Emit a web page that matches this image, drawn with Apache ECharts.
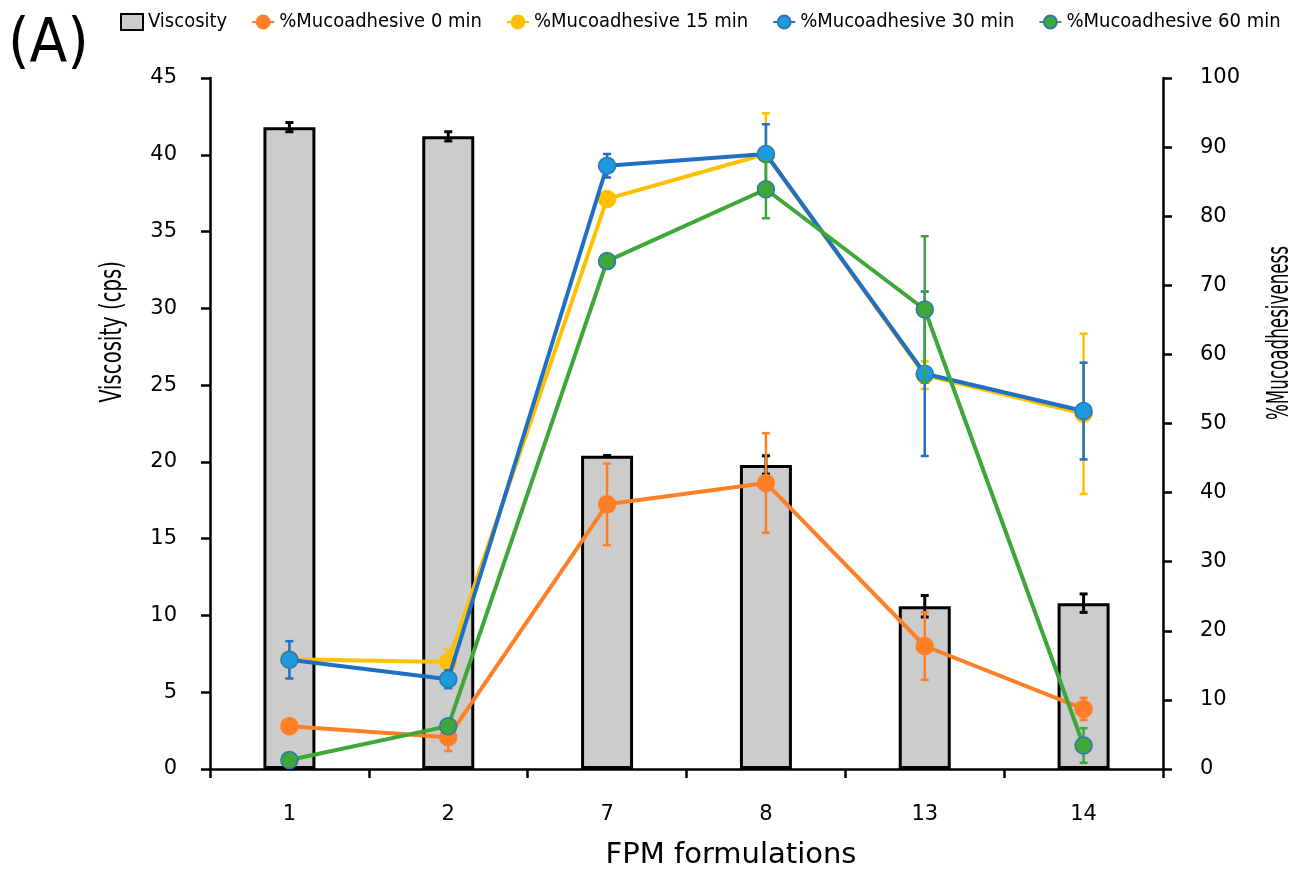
<!DOCTYPE html>
<html>
<head>
<meta charset="utf-8">
<title>Viscosity and mucoadhesiveness of FPM formulations</title>
<script src="https://cdn.jsdelivr.net/npm/echarts@6/dist/echarts.min.js"></script>
<style>
  html, body { margin: 0; padding: 0; background: #fff; }
  #chart { width: 1303px; height: 870px; }
</style>
</head>
<body>
<div id="chart"></div>
<script>
'use strict';

/* ── Data ── */
const categories   = ['1', '2', '7', '8', '13', '14'];
const viscosity    = [41.8, 41.2, 20.4, 19.8, 10.6, 10.8];
const viscosityErr = [0.3, 0.3, 0, 0.6, 0.7, 0.6];

const muco0     = [6.2, 4.6, 38.3, 41.4, 17.8, 8.7];
const muco0Err  = [0.5, 2.0, 5.9, 7.2, 4.9, 1.6];
const muco15    = [15.9, 15.5, 82.5, 89.0, 57.0, 51.4];
const muco15Err = [0.5, 1.8, 1.0, 5.9, 2.0, 11.6];
const muco30    = [15.8, 13.0, 87.3, 89.0, 57.2, 51.8];
const muco30Err = [2.7, 1.3, 1.7, 4.3, 11.9, 7.0];
const muco60    = [1.3, 6.2, 73.5, 83.9, 66.5, 3.4];
const muco60Err = [0.5, 0.5, 0.5, 4.2, 10.6, 2.5];

const leftTicks  = { min: 0, max: 45, interval: 5 };
const rightTicks = { min: 0, max: 100, interval: 10 };

/* ── Styles ── */
const FONT = "'DejaVu Sans', sans-serif";
const FONT_C = "'DejaVu Sans Condensed', sans-serif";
const C_ORANGE = '#FF7F27';
const C_YELLOW = '#FFC000';
const C_BLUE   = '#1F6FC5';
const C_BLUE_M = '#1C9ADB';
const C_GREEN  = '#3FA638';

function errorSeries(name, values, errs, color, yIdx, lw, cap, z) {
  return {
    name: name,
    type: 'custom',
    yAxisIndex: yIdx,
    z: z,
    silent: true,
    data: values.map((v, i) => [i, v - errs[i], v + errs[i]]),
    renderItem: function (params, api) {
      const lo = api.coord([api.value(0), api.value(1)]);
      const hi = api.coord([api.value(0), api.value(2)]);
      const x = lo[0];
      const st = { stroke: color, lineWidth: lw };
      return {
        type: 'group',
        children: [
          { type: 'line', shape: { x1: x, y1: lo[1], x2: x, y2: hi[1] }, style: st },
          { type: 'line', shape: { x1: x - cap, y1: lo[1], x2: x + cap, y2: lo[1] }, style: st },
          { type: 'line', shape: { x1: x - cap, y1: hi[1], x2: x + cap, y2: hi[1] }, style: st }
        ]
      };
    }
  };
}

function lineSeries(name, values, lineColor, fill, border, z) {
  return {
    name: name,
    type: 'line',
    yAxisIndex: 1,
    z: z,
    data: values,
    symbol: 'circle',
    symbolSize: 17,
    lineStyle: { color: lineColor, width: 4 },
    itemStyle: { color: fill, borderColor: border, borderWidth: 1.5 }
  };
}

const axisLineStyle = { show: true, lineStyle: { color: '#000', width: 2.5 } };
const axisTickStyle = { show: true, length: 9, lineStyle: { color: '#000', width: 2.5 } };

const chart = echarts.init(document.getElementById('chart'), null, { renderer: 'canvas' });

chart.setOption({
  backgroundColor: '#fff',
  animation: false,
  textStyle: { fontFamily: FONT, color: '#000' },
  grid: { left: 210, right: 140, top: 78, bottom: 101 },
  legend: {
    left: 115,
    top: 7,
    width: 1189,
    itemWidth: 22,
    itemHeight: 16,
    itemGap: 24,
    textStyle: { fontFamily: FONT_C, fontSize: 20, color: '#000' },
    data: [
      { name: 'Viscosity', icon: 'rect', itemStyle: { color: '#CCCCCC', borderColor: '#000', borderWidth: 2 } },
      '%Mucoadhesive 0 min',
      '%Mucoadhesive 15 min',
      '%Mucoadhesive 30 min',
      '%Mucoadhesive 60 min'
    ]
  },
  graphic: [
    { type: 'text', x: 8, y: 15, scaleX: 0.92,
      style: { text: '(A)', font: '60px ' + FONT, fill: '#000' } },
    { type: 'text', x: 113, y: 332, rotation: Math.PI / 2, scaleX: 0.705,
      style: { text: 'Viscosity (cps)', font: '31px ' + FONT_C, fill: '#000', align: 'center', verticalAlign: 'middle' } },
    { type: 'text', x: 1280, y: 333, rotation: Math.PI / 2, scaleX: 0.6,
      style: { text: '%Mucoadhesiveness', font: '31px ' + FONT_C, fill: '#000', align: 'center', verticalAlign: 'middle' } },
    { type: 'text', x: 731, y: 855,
      style: { text: 'FPM formulations', font: '29px ' + FONT, fill: '#000', align: 'center', verticalAlign: 'middle' } }
  ],
  xAxis: {
    type: 'category',
    data: categories,
    boundaryGap: true,
    axisLine: axisLineStyle,
    axisTick: { ...axisTickStyle, alignWithLabel: false },
    axisLabel: { fontSize: 21, color: '#000', margin: 35 },
    splitLine: { show: false }
  },
  yAxis: [
    {
      type: 'value',
      ...leftTicks,
      axisLine: axisLineStyle,
      axisTick: axisTickStyle,
      axisLabel: { fontSize: 21, color: '#000', margin: 33 },
      splitLine: { show: false }
    },
    {
      type: 'value',
      position: 'right',
      ...rightTicks,
      axisLine: axisLineStyle,
      axisTick: axisTickStyle,
      axisLabel: { fontSize: 21, color: '#000', margin: 37 },
      splitLine: { show: false }
    }
  ],
  series: [
    {
      name: 'Viscosity',
      type: 'bar',
      yAxisIndex: 0,
      barWidth: 52,
      z: 1,
      data: viscosity,
      itemStyle: { color: '#CCCCCC', borderColor: '#000', borderWidth: 3 }
    },
    errorSeries('visc-err', viscosity, viscosityErr, '#000', 0, 3, 4, 2),
    errorSeries('err0', muco0, muco0Err, C_ORANGE, 1, 2.5, 4, 3),
    lineSeries('%Mucoadhesive 0 min', muco0, C_ORANGE, C_ORANGE, C_ORANGE, 4),
    errorSeries('err15', muco15, muco15Err, C_YELLOW, 1, 2.5, 4, 5),
    lineSeries('%Mucoadhesive 15 min', muco15, C_YELLOW, C_YELLOW, C_YELLOW, 6),
    errorSeries('err30', muco30, muco30Err, C_BLUE, 1, 2.5, 4, 7),
    lineSeries('%Mucoadhesive 30 min', muco30, C_BLUE, C_BLUE_M, '#2E75B6', 8),
    errorSeries('err60', muco60, muco60Err, C_GREEN, 1, 2.5, 4, 9),
    lineSeries('%Mucoadhesive 60 min', muco60, C_GREEN, C_GREEN, '#2E75B6', 10)
  ]
});

window.addEventListener('resize', () => chart.resize());
</script>
</body>
</html>
